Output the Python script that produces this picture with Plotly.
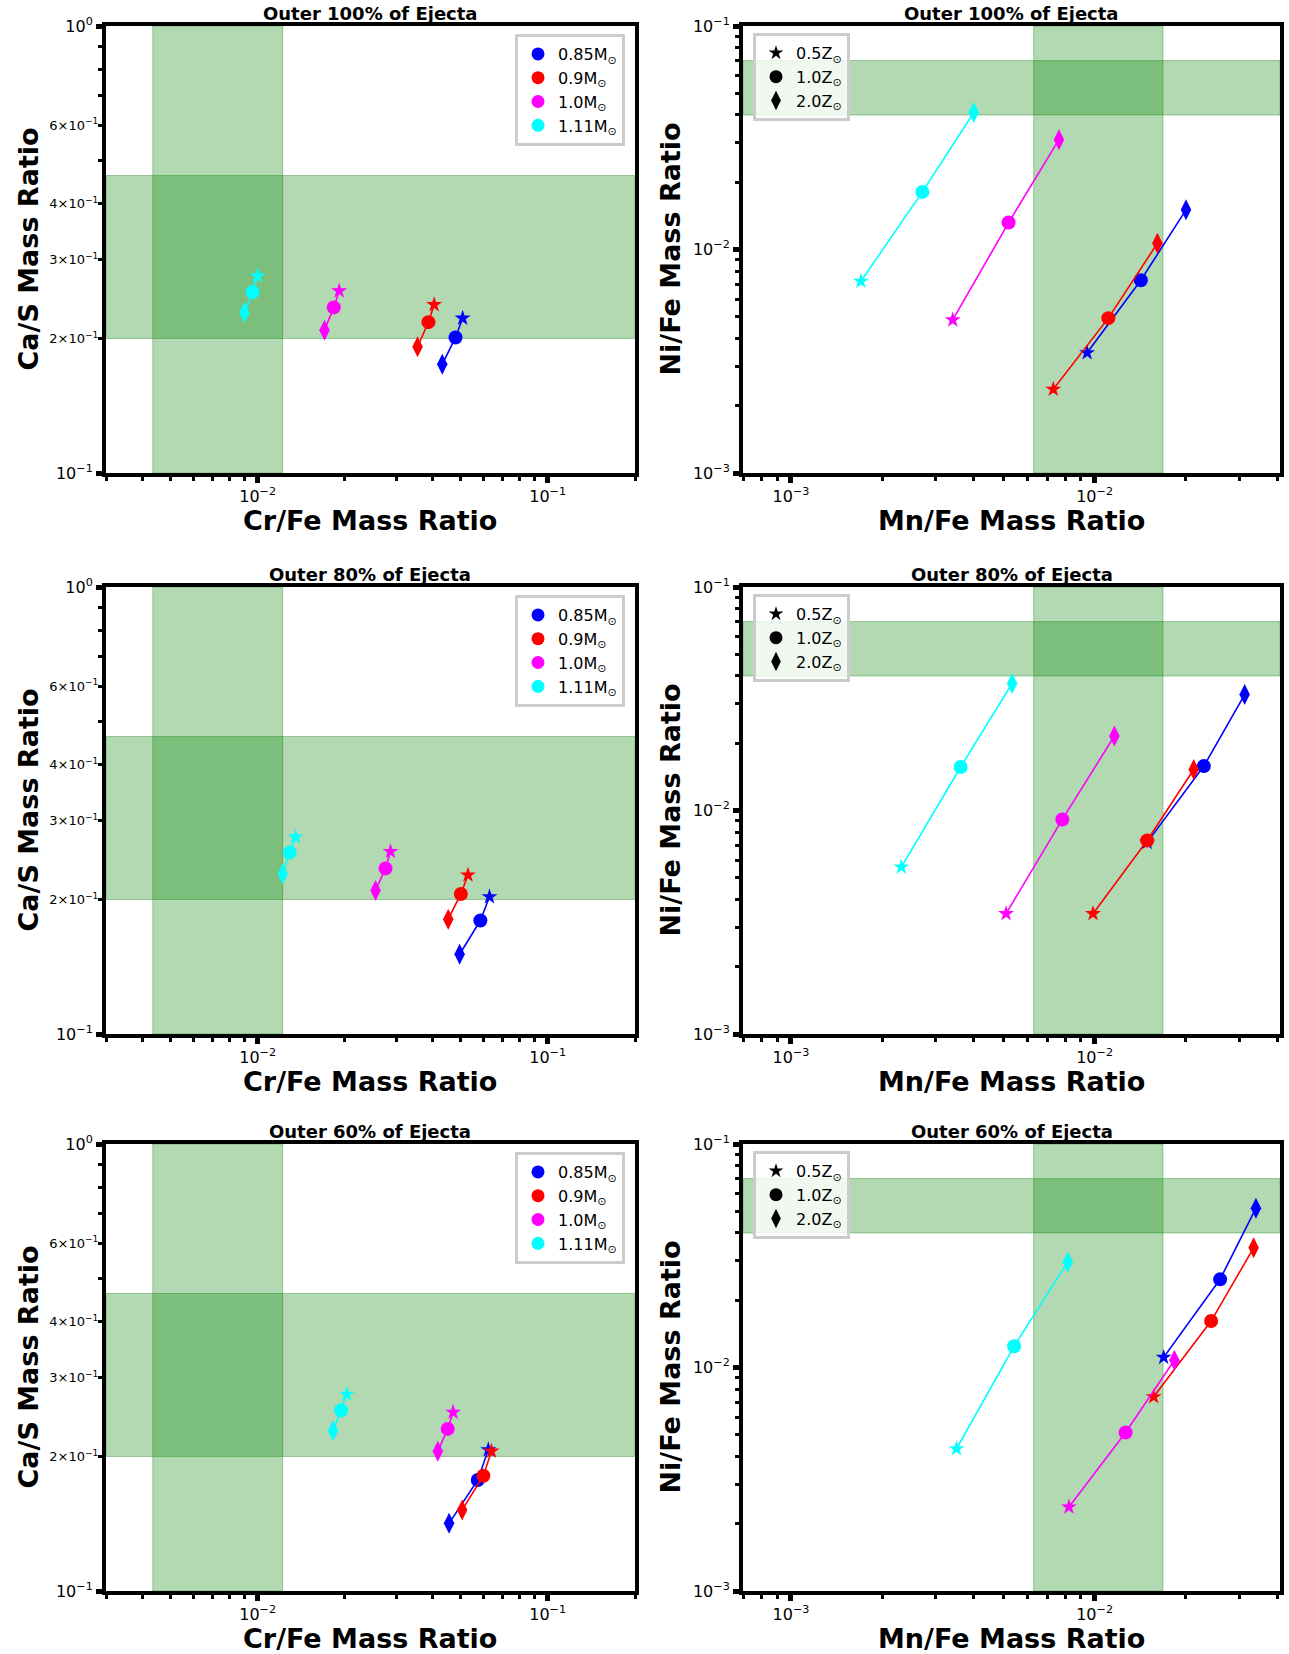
import math
import plotly.graph_objects as go

# ---------------- data ----------------
REGIONS = ["Outer 100% of Ejecta", "Outer 80% of Ejecta", "Outer 60% of Ejecta"]
MASS_LABELS = ["0.85M<sub>⊙</sub>", "0.9M<sub>⊙</sub>", "1.0M<sub>⊙</sub>", "1.11M<sub>⊙</sub>"]
MASS_COLORS = ["blue", "red", "magenta", "cyan"]
Z_LABELS = ["0.5Z<sub>⊙</sub>", "1.0Z<sub>⊙</sub>", "2.0Z<sub>⊙</sub>"]
Z_SYMBOLS = ["star", "circle", "diamond-tall"]
Z_SIZES = [12, 14, 15]
LEGEND_Z_SIZES = [11, 13, 14]

# each list: one row per mass (0.85, 0.9, 1.0, 1.11), values for (0.5Z, 1.0Z, 2.0Z)
crfe_100 = [[0.0509, 0.0481, 0.0433], [0.0406, 0.0388, 0.0356], [0.0191, 0.0183, 0.0170], [0.0100, 0.0096, 0.0090]]
cas_100 = [[0.222, 0.201, 0.175], [0.238, 0.2175, 0.1916], [0.2555, 0.2347, 0.2087], [0.276, 0.254, 0.2285]]
mnfe_100 = [[0.00945, 0.0142, 0.0200], [0.00731, 0.0111, 0.0161], [0.00341, 0.00521, 0.00763], [0.0017, 0.00271, 0.0040]]
nife_100 = [[0.00345, 0.00729, 0.01505], [0.00237, 0.00493, 0.01066], [0.00484, 0.0132, 0.031], [0.00721, 0.0181, 0.041]]

crfe_80 = [[0.063, 0.0586, 0.0497], [0.0531, 0.0502, 0.0454], [0.0287, 0.0276, 0.0255], [0.0135, 0.0129, 0.0122]]
cas_80 = [[0.2028, 0.1794, 0.1508], [0.2268, 0.2057, 0.1807], [0.256, 0.2347, 0.2094], [0.2758, 0.2546, 0.228]]
mnfe_80 = [[0.0149, 0.0229, 0.0312], [0.00988, 0.0149, 0.0212], [0.00511, 0.00783, 0.01162], [0.00231, 0.00362, 0.00535]]
nife_80 = [[0.0072, 0.0158, 0.033], [0.003455, 0.00734, 0.01526], [0.003455, 0.00912, 0.02154], [0.00558, 0.01565, 0.037]]

crfe_60 = [[0.0624, 0.0574, 0.0457], [0.064, 0.060, 0.0507], [0.0472, 0.0452, 0.0418], [0.0203, 0.0194, 0.0182]]
cas_60 = [[0.207, 0.1772, 0.1417], [0.2055, 0.1811, 0.1517], [0.2511, 0.2305, 0.2055], [0.2755, 0.2538, 0.2284]]
mnfe_60 = [[0.01688, 0.0259, 0.034], [0.01565, 0.0242, 0.0334], [0.00823, 0.01265, 0.01831], [0.00351, 0.00543, 0.00816]]
nife_60 = [[0.0111, 0.0248, 0.0516], [0.0074, 0.01614, 0.0343], [0.002376, 0.00512, 0.01078], [0.00433, 0.01244, 0.02965]]

# observed ranges (shaded bands)
crfe_band = [0.00435, 0.0122]
cas_band = [0.2, 0.463]
mnfe_band = [0.0063, 0.0168]
nife_band = [0.040, 0.070]

# axis ranges and ticks
crfe_range = [0.003, 0.2]
cas_range = [0.1, 1.0]
mnfe_range = [0.000695, 0.0408]
nife_range = [0.001, 0.1]

crfe_major = [0.01, 0.1]
crfe_major_text = ["10<sup>−2</sup>", "10<sup>−1</sup>"]
crfe_minor = [0.003, 0.004, 0.005, 0.006, 0.007, 0.008, 0.009,
              0.02, 0.03, 0.04, 0.05, 0.06, 0.07, 0.08, 0.09, 0.2]
cas_major = [0.1, 1.0]
cas_major_text = ["10<sup>−1</sup>", "10<sup>0</sup>"]
cas_minor = [0.2, 0.3, 0.4, 0.5, 0.6, 0.7, 0.8, 0.9]
cas_minor_labeled = [0.2, 0.3, 0.4, 0.6]
cas_minor_text = ["2×10<sup>−1</sup>", "3×10<sup>−1</sup>", "4×10<sup>−1</sup>", "6×10<sup>−1</sup>"]
mnfe_major = [0.001, 0.01]
mnfe_major_text = ["10<sup>−3</sup>", "10<sup>−2</sup>"]
mnfe_minor = [0.0007, 0.0008, 0.0009, 0.002, 0.003, 0.004, 0.005, 0.006, 0.007,
              0.008, 0.009, 0.02, 0.03, 0.04]
nife_major = [0.001, 0.01, 0.1]
nife_major_text = ["10<sup>−3</sup>", "10<sup>−2</sup>", "10<sup>−1</sup>"]
nife_minor = [0.002, 0.003, 0.004, 0.005, 0.006, 0.007, 0.008, 0.009,
              0.02, 0.03, 0.04, 0.05, 0.06, 0.07, 0.08, 0.09]

LEFT_DATA = [(crfe_100, cas_100), (crfe_80, cas_80), (crfe_60, cas_60)]
RIGHT_DATA = [(mnfe_100, nife_100), (mnfe_80, nife_80), (mnfe_60, nife_60)]

# ---------------- layout geometry (pixels) ----------------
W, H = 1289, 1654
LEFT_X = (106, 635)
RIGHT_X = (743, 1280)
ROW_Y = [(26, 473), (587, 1034), (1144, 1591)]
FONT = "DejaVu Sans"


def px_x(p):
    return p / W


def px_y(p):
    return 1 - p / H


def lg(v):
    return [math.log10(v[0]), math.log10(v[1])]


fig = go.Figure()
layout = dict(
    width=W, height=H, margin=dict(l=0, r=0, t=0, b=0, pad=0),
    paper_bgcolor="white", plot_bgcolor="white",
    font=dict(family=FONT, color="black"),
    showlegend=True,
)
shapes = []
annotations = []


def axis_dict(rng, major, major_text, minor, domain, anchor):
    return dict(
        type="log", range=lg(rng), domain=domain, anchor=anchor, automargin=False,
        showline=True, linewidth=4, linecolor="black", mirror=True,
        ticks="outside", ticklen=6, tickwidth=5, tickcolor="black",
        showgrid=False, zeroline=False,
        tickmode="array", tickvals=major, ticktext=major_text,
        tickfont=dict(family=FONT, size=16, color="black"),
        minor=dict(ticks="outside", ticklen=4, tickwidth=3, tickcolor="black",
                   tickmode="array", tickvals=minor, showgrid=False),
    )


overlay_id = 7
for r in range(3):
    y0p, y1p = ROW_Y[r]
    ydom = [px_y(y1p), px_y(y0p)]
    for c in range(2):
        k = r * 2 + c
        n = k + 1
        xname = "x" if n == 1 else f"x{n}"
        yname = "y" if n == 1 else f"y{n}"
        xkey = "xaxis" if n == 1 else f"xaxis{n}"
        ykey = "yaxis" if n == 1 else f"yaxis{n}"
        lkey = "legend" if n == 1 else f"legend{n}"
        xs = LEFT_X if c == 0 else RIGHT_X
        xdom = [px_x(xs[0]), px_x(xs[1])]
        if c == 0:
            layout[xkey] = axis_dict(crfe_range, crfe_major, crfe_major_text, crfe_minor, xdom, yname)
            layout[ykey] = axis_dict(cas_range, cas_major, cas_major_text, cas_minor, ydom, xname)
            # overlay axis carrying the labelled minor ticks (2,3,4,6 x 10^-1)
            oname = f"y{overlay_id}"
            layout[f"yaxis{overlay_id}"] = dict(
                type="log", range=lg(cas_range), overlaying=yname, anchor=xname, side="left",
                automargin=False, showline=False, showgrid=False, zeroline=False,
                ticks="outside", ticklen=4, tickwidth=3, tickcolor="black",
                tickmode="array", tickvals=cas_minor_labeled, ticktext=cas_minor_text,
                tickfont=dict(family=FONT, size=13, color="black"),
            )
            fig.add_trace(go.Scatter(x=[None], y=[None], xaxis=xname, yaxis=oname,
                                     showlegend=False, hoverinfo="skip"))
            overlay_id += 1
            xdata, ydata = LEFT_DATA[r]
            xband, yband = crfe_band, cas_band
            xtitle, ytitle = "Cr/Fe Mass Ratio", "Ca/S Mass Ratio"
        else:
            layout[xkey] = axis_dict(mnfe_range, mnfe_major, mnfe_major_text, mnfe_minor, xdom, yname)
            layout[ykey] = axis_dict(nife_range, nife_major, nife_major_text, nife_minor, ydom, xname)
            xdata, ydata = RIGHT_DATA[r]
            xband, yband = mnfe_band, nife_band
            xtitle, ytitle = "Mn/Fe Mass Ratio", "Ni/Fe Mass Ratio"

        band_style = dict(fillcolor="rgba(0,128,0,0.3)", line=dict(color="rgba(0,128,0,0.35)", width=1),
                          layer="below")
        shapes.append(dict(type="rect", xref=xname, yref=f"{yname} domain",
                           x0=xband[0], x1=xband[1], y0=0, y1=1, **band_style))
        shapes.append(dict(type="rect", xref=f"{xname} domain", yref=yname,
                           x0=0, x1=1, y0=yband[0], y1=yband[1], **band_style))

        for i in range(4):
            fig.add_trace(go.Scatter(
                x=xdata[i], y=ydata[i], mode="lines+markers",
                line=dict(color=MASS_COLORS[i], width=1.6),
                marker=dict(symbol=Z_SYMBOLS, color=MASS_COLORS[i], size=Z_SIZES,
                            opacity=1, line=dict(width=0)),
                showlegend=False, xaxis=xname, yaxis=yname, hoverinfo="x+y",
            ))

        legend_style = dict(yanchor="top", bgcolor="rgba(255,255,255,0.8)",
                            bordercolor="#cccccc", borderwidth=3,
                            font=dict(family=FONT, size=16, color="black"))
        if c == 0:
            for i in range(4):
                fig.add_trace(go.Scatter(
                    x=[None], y=[None], mode="markers", name=MASS_LABELS[i],
                    marker=dict(symbol="circle", color=MASS_COLORS[i], size=13),
                    xaxis=xname, yaxis=yname, legend=lkey, showlegend=True,
                ))
            layout[lkey] = dict(x=px_x(625), y=px_y(y0p + 8), xanchor="right", **legend_style)
        else:
            for j in range(3):
                fig.add_trace(go.Scatter(
                    x=[None], y=[None], mode="markers", name=Z_LABELS[j],
                    marker=dict(symbol=Z_SYMBOLS[j], color="black", size=LEGEND_Z_SIZES[j]),
                    xaxis=xname, yaxis=yname, legend=lkey, showlegend=True,
                ))
            layout[lkey] = dict(x=px_x(753), y=px_y(y0p + 7), xanchor="left", **legend_style)

        xc = (xs[0] + xs[1]) / 2
        yc = (y0p + y1p) / 2
        annotations.append(dict(text=f"<b>{REGIONS[r]}</b>", xref="paper", yref="paper",
                                x=px_x(xc), y=px_y(y0p - 13), xanchor="center", yanchor="middle",
                                showarrow=False, font=dict(family=FONT, size=18, color="black")))
        annotations.append(dict(text=f"<b>{xtitle}</b>", xref="paper", yref="paper",
                                x=px_x(xc), y=px_y(y1p + 47), xanchor="center", yanchor="middle",
                                showarrow=False, font=dict(family=FONT, size=27, color="black")))
        ytx = 28 if c == 0 else 670
        annotations.append(dict(text=f"<b>{ytitle}</b>", xref="paper", yref="paper",
                                x=px_x(ytx), y=px_y(yc), xanchor="center", yanchor="middle",
                                textangle=-90, showarrow=False,
                                font=dict(family=FONT, size=27, color="black")))

layout["shapes"] = shapes
layout["annotations"] = annotations
fig.update_layout(**layout)
fig.write_html("out.html", config={"displayModeBar": False},
               post_script="document.body.style.margin='0px';")
